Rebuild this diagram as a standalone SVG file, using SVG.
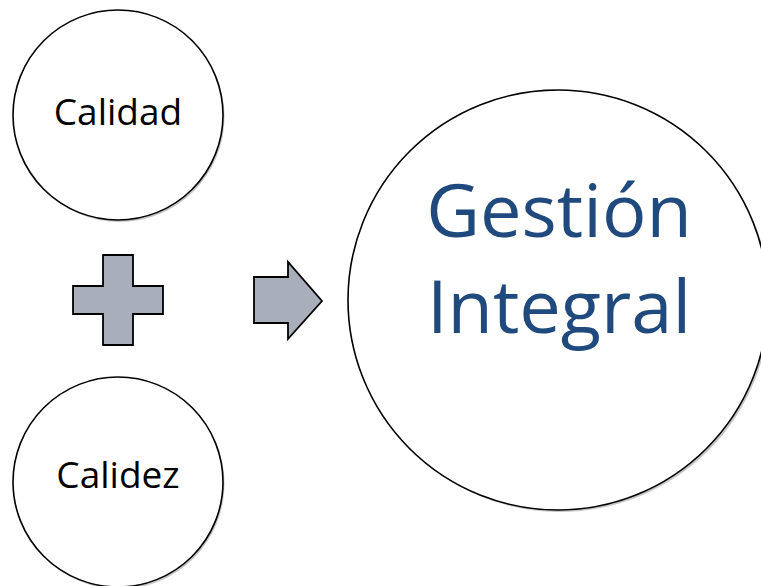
<svg xmlns="http://www.w3.org/2000/svg" width="761" height="586" viewBox="0 0 761 586">
<style>
.c{fill:#fff;stroke:#000;stroke-width:1.6}
.sh{fill:#a0a0a0;opacity:0.6}
.lbl{font-family:"Open Sans","Noto Sans","DejaVu Sans",sans-serif;font-size:37px;fill:#000;text-anchor:middle}
.big{font-family:"Open Sans","Noto Sans","DejaVu Sans",sans-serif;font-size:74px;fill:#204a7e;text-anchor:middle}
.sym{fill:#a9aebb;stroke:#000;stroke-width:1.8;stroke-linejoin:miter}
</style>
<rect width="761" height="586" fill="#fff"/>
<g id="calidad">
<circle class="sh" cx="119.5" cy="117" r="105"/>
<circle class="c" cx="118" cy="115" r="105"/>
<text class="lbl" x="118" y="125">Calidad</text>
</g>
<g id="calidez">
<circle class="sh" cx="119.5" cy="484" r="105"/>
<circle class="c" cx="118" cy="482" r="105"/>
<text class="lbl" x="118" y="488">Calidez</text>
</g>
<g id="gestion">
<circle class="sh" cx="560" cy="302" r="210"/>
<circle class="c" cx="558" cy="300" r="210"/>
<text class="big" x="559" y="237">Gestión</text>
<text class="big" x="559" y="333">Integral</text>
</g>
<g id="connectors">
<polygon class="sym" points="103,255 133,255 133,286 163,286 163,314 133,314 133,345 103,345 103,314 73,314 73,286 103,286"/>
<polygon class="sym" points="254,277 288,277 288,262 322,301 288,339 288,323 254,323"/>
</g>
</svg>
